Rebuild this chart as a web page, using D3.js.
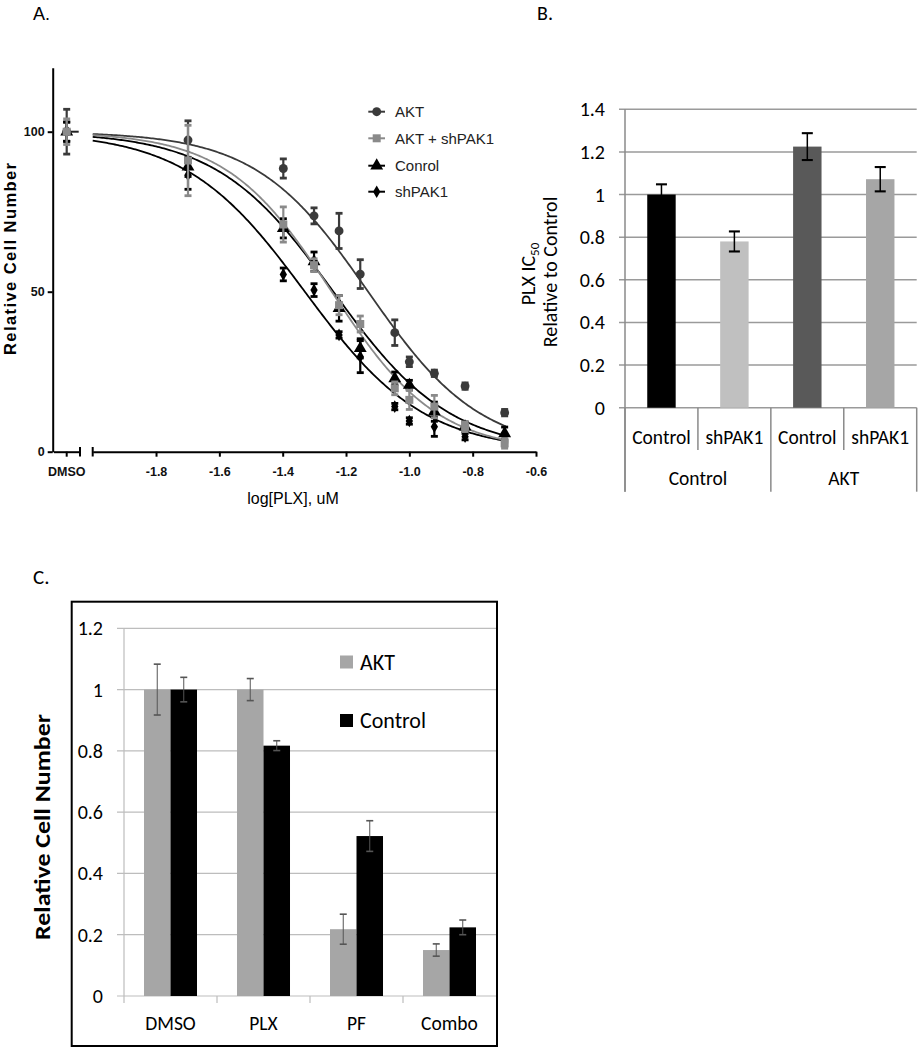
<!DOCTYPE html>
<html><head><meta charset="utf-8">
<script src="https://cdn.jsdelivr.net/npm/d3@7"></script>
<style>body{margin:0;background:#fff} svg{display:block}</style>
</head><body>
<svg id="fig" width="921" height="1050"></svg>
<script>
// ---------- Panel A data ----------
const logConc = [-1.699, -1.398, -1.301, -1.222, -1.155, -1.046, -1.0, -0.921, -0.824, -0.699];
const seriesA = ["AKT", "AKT + shPAK1", "Conrol", "shPAK1"];
const aktVals = [97.4, 88.5, 73.7, 69, 55.5, 37.2, 28.1, 24.5, 20.5, 12.2];
const aktErr = [6, 3, 2.5, 5.5, 4.5, 4, 1.5, 1, 1, 1];
const aktShVals = [91, 71, 58.3, 45.8, 39.9, 19.8, 16.2, 14.1, 7.8, 2.6];
const aktShErr = [11, 5.5, 2, 3, 2.5, 2, 3, 3.5, 1.5, 1.5];
const controlVals = [89, 69.8, 59.4, 44.8, 32.3, 22.9, 20.8, 12.5, 7.8, 5.7];
const controlErr = [3, 3, 3, 4, 3, 2, 1.5, 3, 1.5, 2];
const shVals = [86.5, 55.4, 50.5, 36.5, 29.7, 14.1, 9.6, 7.8, 4.7, 4.0];
const shErr = [4.5, 2, 2, 1, 5, 1, 1, 3, 1, 1];
const dmsoVals = [100, 100, 100, 100];
const dmsoErr = [7, 4, 3, 3];
const fitLogIC50 = [-1.13, -1.245, -1.24, -1.33];
const fitHill = [2.45, 2.6, 2.35, 2.3];
const yTicksA = [0, 50, 100];
const xTicksA = [-1.8, -1.6, -1.4, -1.2, -1.0, -0.8, -0.6];

// ---------- Panel B data ----------
const groupsB = ["Control", "AKT"];
const catsB = ["Control", "shPAK1", "Control", "shPAK1"];
const valsB = [1.0, 0.78, 1.225, 1.072];
const errB = [0.048, 0.047, 0.063, 0.057];
const yTicksB = [0, 0.2, 0.4, 0.6, 0.8, 1.0, 1.2, 1.4];

// ---------- Panel C data ----------
const catsC = ["DMSO", "PLX", "PF", "Combo"];
const seriesC = ["AKT", "Control"];
const aktC = [1.0, 1.0, 0.218, 0.15];
const aktCErr = [0.083, 0.036, 0.049, 0.02];
const controlC = [1.0, 0.817, 0.522, 0.224];
const controlCErr = [0.04, 0.016, 0.05, 0.024];
const yTicksC = [0, 0.2, 0.4, 0.6, 0.8, 1.0, 1.2];

const svg = d3.select("#fig");
const ARIAL = "'Liberation Sans', Arial, sans-serif";
const CAL = "Carlito, Lato, 'Open Sans', sans-serif";

// =============== PANEL A ===============
const A = svg.append("g");
A.append("text").attr("x", 33).attr("y", 20).attr("font-family", ARIAL).attr("font-size", 18).text("A.");

const xA = d3.scaleLinear().domain([-2.0, -0.6]).range([92.7, 536]);
const yA = d3.scaleLinear().domain([0, 120]).range([451.7, 67.7]);
const xD = d3.scaleBand().domain(["DMSO"]).range([53.4, 80]);

const yAxA = A.append("g").attr("transform", "translate(52.7,0)")
  .call(d3.axisLeft(yA).tickValues(yTicksA).tickSize(5).tickSizeOuter(0).tickPadding(3));
const xAxA = A.append("g").attr("transform", "translate(0,451.7)")
  .call(d3.axisBottom(xA).tickValues(xTicksA).tickSize(5).tickSizeOuter(0).tickFormat(d => d.toFixed(1)));
const xAxD = A.append("g").attr("transform", "translate(0,451.7)")
  .call(d3.axisBottom(xD).tickSize(5).tickSizeOuter(0));
[yAxA, xAxA, xAxD].forEach(g => {
  g.selectAll("path,line").attr("stroke", "#000").attr("stroke-width", 2);
  g.selectAll("text").attr("font-family", ARIAL).attr("font-weight", "bold").attr("font-size", 12.5).attr("fill", "#111");
});
[xAxA, xAxD].forEach(g => g.selectAll("text").attr("y", 20).attr("dy", "0.35em"));
// axis caps at the break
A.append("line").attr("x1", xA(-2.0)).attr("x2", xA(-2.0)).attr("y1", 447).attr("y2", 456.5).attr("stroke", "#000").attr("stroke-width", 2);
A.append("line").attr("x1", xD.range()[1]).attr("x2", xD.range()[1]).attr("y1", 447).attr("y2", 456.5).attr("stroke", "#000").attr("stroke-width", 2);

A.append("text").attr("x", 293).attr("y", 498).attr("dy", "0.35em").attr("text-anchor", "middle")
  .attr("font-family", ARIAL).attr("font-size", 16).text("log[PLX], uM");
A.append("text").attr("transform", "translate(10,259) rotate(-90)").attr("text-anchor", "middle").attr("dy", "0.35em")
  .attr("font-family", ARIAL).attr("font-weight", "bold").attr("font-size", 16.5)
  .attr("textLength", 192).attr("lengthAdjust", "spacing").text("Relative Cell Number");

const colA = ["#3a3a3a", "#8a8a8a", "#000", "#000"];
const symA = [d3.symbolCircle, d3.symbolSquare, d3.symbolTriangle, d3.symbolDiamond];
const sizeA = [62, 64, 72, 46];
const valsA = [aktVals, aktShVals, controlVals, shVals];
const errsA = [aktErr, aktShErr, controlErr, shErr];

// fitted curves
const fitX = d3.range(-2.0, -0.6949, 0.005);
const lineA = d3.line().x(d => xA(d[0])).y(d => yA(d[1]));
[3, 2, 0, 1].forEach(i => {
  const pts = fitX.map(x => [x, 100 / (1 + Math.pow(10, (x - fitLogIC50[i]) * fitHill[i]))]);
  A.append("path").attr("d", lineA(pts)).attr("fill", "none").attr("stroke", colA[i]).attr("stroke-width", 1.8);
});

function errBar(g, x, y1, y2, col, cw, sw) {
  g.append("line").attr("x1", x).attr("x2", x).attr("y1", y1).attr("y2", y2).attr("stroke", col).attr("stroke-width", sw);
  g.append("line").attr("x1", x - cw / 2).attr("x2", x + cw / 2).attr("y1", y1).attr("y2", y1).attr("stroke", col).attr("stroke-width", sw + 0.6);
  g.append("line").attr("x1", x - cw / 2).attr("x2", x + cw / 2).attr("y1", y2).attr("y2", y2).attr("stroke", col).attr("stroke-width", sw + 0.6);
}

// DMSO mean line
const dX = xD("DMSO") + xD.bandwidth() / 2;
A.append("line").attr("x1", dX - 4).attr("x2", dX + 12).attr("y1", yA(100)).attr("y2", yA(100)).attr("stroke", "#222").attr("stroke-width", 2);

[3, 2, 0, 1].forEach(i => {
  const g = A.append("g");
  errBar(g, dX, yA(dmsoVals[i] + dmsoErr[i]), yA(dmsoVals[i] - dmsoErr[i]), colA[i], 7, 2.2);
  g.append("path").attr("d", d3.symbol().type(symA[i]).size(sizeA[i])()).attr("transform", `translate(${dX},${yA(dmsoVals[i])})`).attr("fill", colA[i]);
  logConc.forEach((x, k) => {
    const v = valsA[i][k], e = errsA[i][k];
    errBar(g, xA(x), yA(v + e), yA(v - e), colA[i], 7, 2.2);
    g.append("path").attr("d", d3.symbol().type(symA[i]).size(sizeA[i])())
      .attr("transform", `translate(${xA(x)},${yA(v)})`).attr("fill", colA[i]);
  });
});

// legend A
const legYA = [111.7, 138.3, 165.7, 191.7];
seriesA.forEach((s, i) => {
  const g = A.append("g").attr("transform", `translate(0,${legYA[i]})`);
  g.append("line").attr("x1", 368.3).attr("x2", 385).attr("stroke", colA[i]).attr("stroke-width", 2);
  g.append("path").attr("d", d3.symbol().type(symA[i]).size(sizeA[i])()).attr("transform", "translate(376.7,0)").attr("fill", colA[i]);
  g.append("text").attr("x", 395).attr("dy", "0.36em").attr("font-family", ARIAL).attr("font-size", 15).attr("fill", "#222").text(s);
});

// =============== PANEL B ===============
const B = svg.append("g");
B.append("text").attr("x", 537).attr("y", 20).attr("font-family", CAL).attr("font-size", 20).text("B.");
const xB = d3.scaleBand().domain(d3.range(catsB.length)).range([625, 916.7]).paddingInner(0.61).paddingOuter(0.305);
const yB = d3.scaleLinear().domain([0, 1.4]).range([407.7, 109.3]);
const barColB = ["#000000", "#c0c0c0", "#595959", "#a6a6a6"];

B.append("g").selectAll("line").data(yTicksB).join("line")
  .attr("x1", 619).attr("x2", 916.7).attr("y1", d => yB(d)).attr("y2", d => yB(d)).attr("stroke", "#9a9a9a").attr("stroke-width", 1.5);
B.append("g").selectAll("text").data(yTicksB).join("text")
  .attr("x", 605).attr("y", d => yB(d)).attr("dy", "0.35em").attr("text-anchor", "end")
  .attr("font-family", CAL).attr("font-size", 20).text(d => String(+d.toFixed(1)));
B.append("line").attr("x1", 625).attr("x2", 625).attr("y1", yB(1.4)).attr("y2", 491.7).attr("stroke", "#8a8a8a").attr("stroke-width", 1.5);

B.append("g").selectAll("rect").data(valsB).join("rect")
  .attr("x", (d, i) => xB(i)).attr("width", xB.bandwidth())
  .attr("y", d => yB(d)).attr("height", d => yB(0) - yB(d)).attr("fill", (d, i) => barColB[i]);
valsB.forEach((v, i) => errBar(B, xB(i) + xB.bandwidth() / 2, yB(v + errB[i]), yB(v - errB[i]), "#000", 11, 1.5));

// hierarchical category axis
const stepB = xB.step();
d3.range(catsB.length + 1).forEach(k => {
  const x = 625 + k * stepB;
  const outer = (k % 2 === 0);
  B.append("line").attr("x1", x).attr("x2", x).attr("y1", yB(0)).attr("y2", outer ? 491.7 : 450)
    .attr("stroke", "#8a8a8a").attr("stroke-width", 1.5);
});
catsB.forEach((c, i) => B.append("text").attr("x", xB(i) + xB.bandwidth() / 2).attr("y", 436.7).attr("dy", "0.35em")
  .attr("text-anchor", "middle").attr("font-family", CAL).attr("font-size", 19.5).text(c));
groupsB.forEach((gname, j) => B.append("text").attr("x", 625 + (2 * j + 1) * stepB).attr("y", 478.3).attr("dy", "0.35em")
  .attr("text-anchor", "middle").attr("font-family", CAL).attr("font-size", 19.5).text(gname));

const tB1 = B.append("text").attr("transform", "translate(528,274) rotate(-90)").attr("text-anchor", "middle").attr("dy", "0.35em")
  .attr("font-family", CAL).attr("font-size", 20);
tB1.append("tspan").text("PLX IC");
tB1.append("tspan").attr("font-size", 13).attr("dy", "4").text("50");
B.append("text").attr("transform", "translate(550,272) rotate(-90)").attr("text-anchor", "middle").attr("dy", "0.35em")
  .attr("font-family", CAL).attr("font-size", 20).text("Relative to Control");

// =============== PANEL C ===============
const C = svg.append("g");
C.append("text").attr("x", 33).attr("y", 584).attr("font-family", CAL).attr("font-size", 21).text("C.");
C.append("rect").attr("x", 71.7).attr("y", 601.7).attr("width", 425.3).attr("height", 444.3)
  .attr("fill", "none").attr("stroke", "#000").attr("stroke-width", 2);

const xC = d3.scaleBand().domain(catsC).range([124, 496]).paddingInner(0.43).paddingOuter(0.215);
const xCs = d3.scaleBand().domain(seriesC).range([0, xC.bandwidth()]);
const yC = d3.scaleLinear().domain([0, 1.2]).range([996, 628.3]);
const barColC = ["#a6a6a6", "#000000"];

C.append("g").selectAll("line").data(yTicksC).join("line")
  .attr("x1", 117).attr("x2", 496).attr("y1", d => yC(d)).attr("y2", d => yC(d)).attr("stroke", "#bdbdbd").attr("stroke-width", 1.2);
C.append("line").attr("x1", 124).attr("x2", 124).attr("y1", yC(1.2)).attr("y2", yC(0) + 7).attr("stroke", "#bdbdbd").attr("stroke-width", 1.2);
C.append("g").selectAll("line").data(catsC.slice(1)).join("line")
  .attr("x1", (d, i) => 124 + (i + 1) * xC.step()).attr("x2", (d, i) => 124 + (i + 1) * xC.step())
  .attr("y1", yC(0)).attr("y2", yC(0) + 7).attr("stroke", "#bdbdbd").attr("stroke-width", 1.2);
C.append("g").selectAll("text").data(yTicksC).join("text")
  .attr("x", 103).attr("y", d => yC(d)).attr("dy", "0.35em").attr("text-anchor", "end")
  .attr("font-family", CAL).attr("font-size", 20).text(d => String(+d.toFixed(1)));

const valsC = [aktC, controlC];
const errsC = [aktCErr, controlCErr];
seriesC.forEach((s, j) => {
  catsC.forEach((c, k) => {
    const v = valsC[j][k];
    C.append("rect").attr("x", xC(c) + xCs(s)).attr("width", xCs.bandwidth())
      .attr("y", yC(v)).attr("height", yC(0) - yC(v)).attr("fill", barColC[j]);
  });
});
seriesC.forEach((s, j) => {
  catsC.forEach((c, k) => {
    const v = valsC[j][k], e = errsC[j][k];
    errBar(C, xC(c) + xCs(s) + xCs.bandwidth() / 2, yC(v + e), yC(v - e), "#555", 7, 1);
  });
});
C.append("g").selectAll("text").data(catsC).join("text")
  .attr("x", d => xC(d) + xC.bandwidth() / 2).attr("y", 1023).attr("dy", "0.35em").attr("text-anchor", "middle")
  .attr("font-family", CAL).attr("font-size", 19.5).text(d => d);
C.append("text").attr("transform", "translate(42,827) rotate(-90)").attr("text-anchor", "middle").attr("dy", "0.35em")
  .attr("font-family", CAL).attr("font-weight", "bold").attr("font-size", 22.5)
  .attr("textLength", 226).attr("lengthAdjust", "spacingAndGlyphs").text("Relative Cell Number");

const legYC = [662, 720.5];
seriesC.forEach((s, j) => {
  C.append("rect").attr("x", 340).attr("y", legYC[j] - 6.5).attr("width", 13).attr("height", 13).attr("fill", barColC[j]);
  C.append("text").attr("x", 360).attr("y", legYC[j]).attr("dy", "0.35em").attr("font-family", CAL).attr("font-size", 22).text(s);
});
</script>
</body></html>
